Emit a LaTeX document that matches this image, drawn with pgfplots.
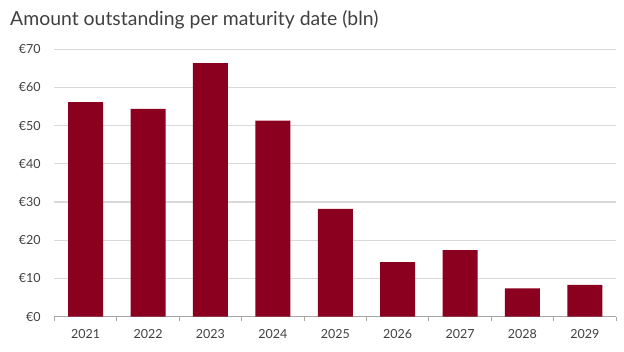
\documentclass[border=0pt]{standalone}
\usepackage{fontspec}
\setmainfont{Lato}
\usepackage{pgfplots}
\pgfplotsset{compat=1.18}
\definecolor{barred}{HTML}{8A001E}
\definecolor{gridgray}{HTML}{D9D9D9}
\definecolor{axgray}{HTML}{A6A6A6}
\definecolor{txt}{HTML}{404040}
\begin{document}
\begin{tikzpicture}
\begin{axis}[
  scale only axis,
  width=561.5pt, height=267.4pt,
  xmin=-0.5, xmax=8.5, ymin=0, ymax=70,
  ybar, bar width=35pt, bar shift=0pt,
  xtick={0,...,8},
  xticklabels={2021,2022,2023,2024,2025,2026,2027,2028,2029},
  minor xtick={-0.5,0.5,...,8.5},
  major x tick style={draw=none},
  minor x tick style={draw=axgray, line width=0.8pt},
  minor tick length=4pt,
  tick align=outside,
  ytick={0,10,...,70},
  yticklabel={€\pgfmathprintnumber{\tick}},
  /pgf/number format/assume math mode=true,
  y tick style={draw=none},
  ymajorgrids,
  grid style={gridgray, line width=1.2pt},
  axis x line*=bottom,
  axis y line*=left,
  y axis line style={draw=none},
  x axis line style={draw=axgray, line width=0.8pt, -},
  ticklabel style={font=\fontsize{12.5}{14}\selectfont, text=txt},
  xticklabel style={yshift=-5pt},
  yticklabel style={xshift=-6pt},
]
\addplot[fill=barred, draw=none] coordinates {
(0,56.2) (1,54.4) (2,66.4) (3,51.3) (4,28.2) (5,14.3) (6,17.4) (7,7.4) (8,8.3)};
\end{axis}
\node[anchor=base west, text=txt, font=\fontsize{19.4}{22}\selectfont, inner sep=0pt] at (-44.5pt,290.7pt) {Amount outstanding per maturity date (bln)};
\pgfresetboundingbox
\path[use as bounding box] (-54.5pt,-35.3pt) rectangle (569.5pt,316.7pt);
\end{tikzpicture}
\end{document}
